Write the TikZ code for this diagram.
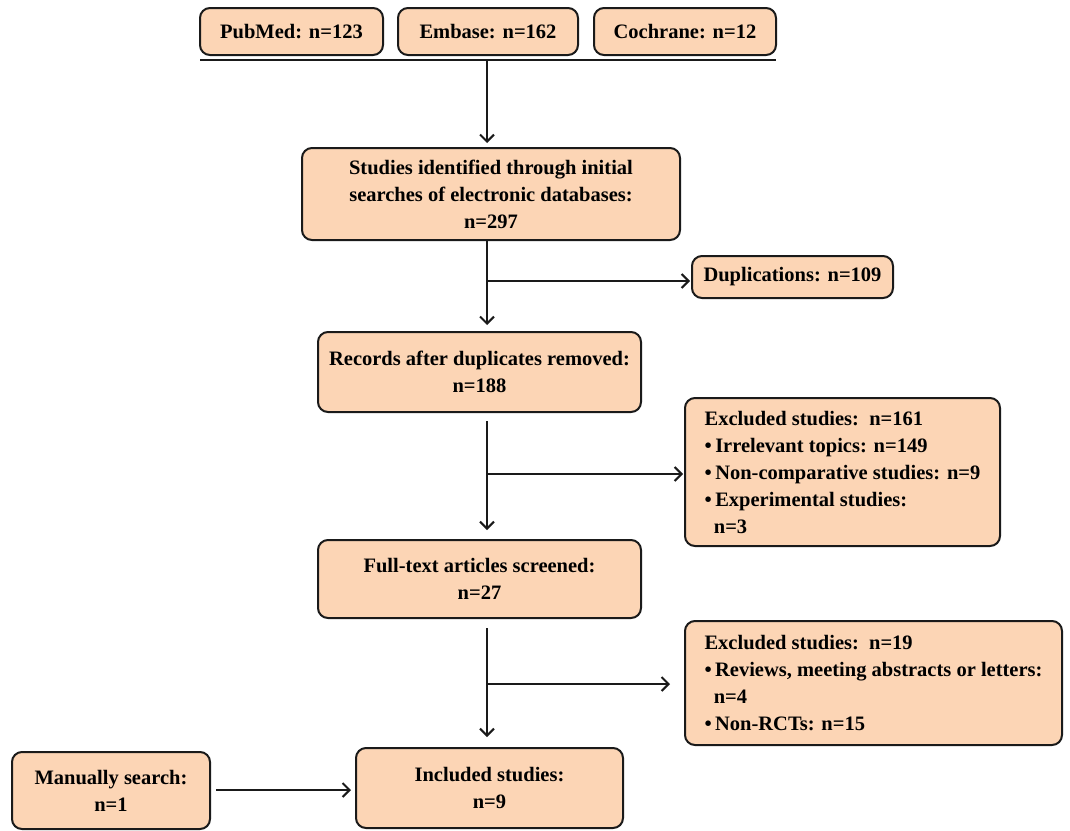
\documentclass[tikz,border=0pt]{standalone}
\usepackage{fontspec}
\setmainfont{Liberation Serif}
\usetikzlibrary{arrows.meta}
\definecolor{boxfill}{HTML}{FCD5B5}
\definecolor{edge}{HTML}{1A1A1A}
\begin{document}
\begin{tikzpicture}[x=1pt,y=-1pt,
  box/.style={draw=edge, line width=2pt, fill=boxfill, rounded corners=10pt,
    font=\bfseries\fontsize{20.5}{27}\selectfont, align=center, inner sep=2pt},
  lbox/.style={box, align=left},
  conn/.style={draw=edge, line width=2pt},
  arr/.style={conn, -{Straight Barb[length=7pt,width=14pt,line width=2pt]}}]
\useasboundingbox (0,0) rectangle (1070,830);
\fill[white] (0,0) rectangle (1070,830);

\node[box, minimum width=183, minimum height=47] (pub) at (291.5,31.5) {PubMed: n=123};
\node[box, minimum width=180, minimum height=47] (emb) at (488,31.5) {Embase: n=162};
\node[box, minimum width=182, minimum height=47] (coc) at (685,31.5) {Cochrane: n=12};
\coordinate (hl) at (200,60);
\coordinate (hr) at (776,60);
\coordinate (hm) at (487,60);
\draw[conn] (hl) -- (hr);

\node[box, minimum width=378, minimum height=92] (ident) at (491,194)
  {Studies identified through initial\\searches of electronic databases:\\n=297};
\node[box, minimum width=201, minimum height=42] (dup) at (792.5,277) {Duplications: n=109};
\node[box, minimum width=323, minimum height=80] (rec) at (479.5,372)
  {Records after duplicates removed:\\n=188};
\node[lbox, minimum width=315, minimum height=148] (ex1) at (842.5,472)
  {Excluded studies:\ \ n=161\\
   \textbullet\,Irrelevant topics: n=149\\
   \textbullet\,Non-comparative studies: n=9\\
   \textbullet\,Experimental studies:\\
   \hspace*{0.45em}n=3};
\node[box, minimum width=323, minimum height=78] (full) at (479.5,579)
  {Full-text articles screened:\\n=27};
\node[lbox, minimum width=377, minimum height=124] (ex2) at (873.5,683)
  {Excluded studies:\ \ n=19\\
   \textbullet\,Reviews, meeting abstracts or letters:\\
   \hspace*{0.45em}n=4\\
   \textbullet\,Non-RCTs: n=15};
\node[box, minimum width=267, minimum height=80] (inc) at (489.5,788)
  {Included studies:\\n=9};
\node[box, minimum width=198, minimum height=77] (man) at (111,790.5)
  {Manually search:\\n=1};

% connectors
\draw[arr, shorten >=4pt] (hm) -- (hm |- ident.north);

\coordinate (s1) at (487,240);
\coordinate (b1) at (487,281);
\draw[arr, shorten >=6pt] (s1) -- (s1 |- rec.north);
\draw[arr, shorten >=1pt] (b1) -- (b1 -| dup.west);

\coordinate (s2) at (487,412);
\coordinate (b2) at (487,474);
\draw[arr, shorten <=9pt, shorten >=9pt] (s2) -- (s2 |- full.north);
\draw[arr, shorten >=1pt] (b2) -- (b2 -| ex1.west);

\coordinate (s3) at (487,618);
\coordinate (b3) at (487,684);
\draw[arr, shorten <=10pt, shorten >=10pt] (s3) -- (s3 |- inc.north);
\draw[arr, shorten >=14pt] (b3) -- (b3 -| ex2.west);

\draw[arr, shorten <=5pt, shorten >=4pt] (man.east |- 0,790) -- (inc.west |- 0,790);
\end{tikzpicture}
\end{document}
